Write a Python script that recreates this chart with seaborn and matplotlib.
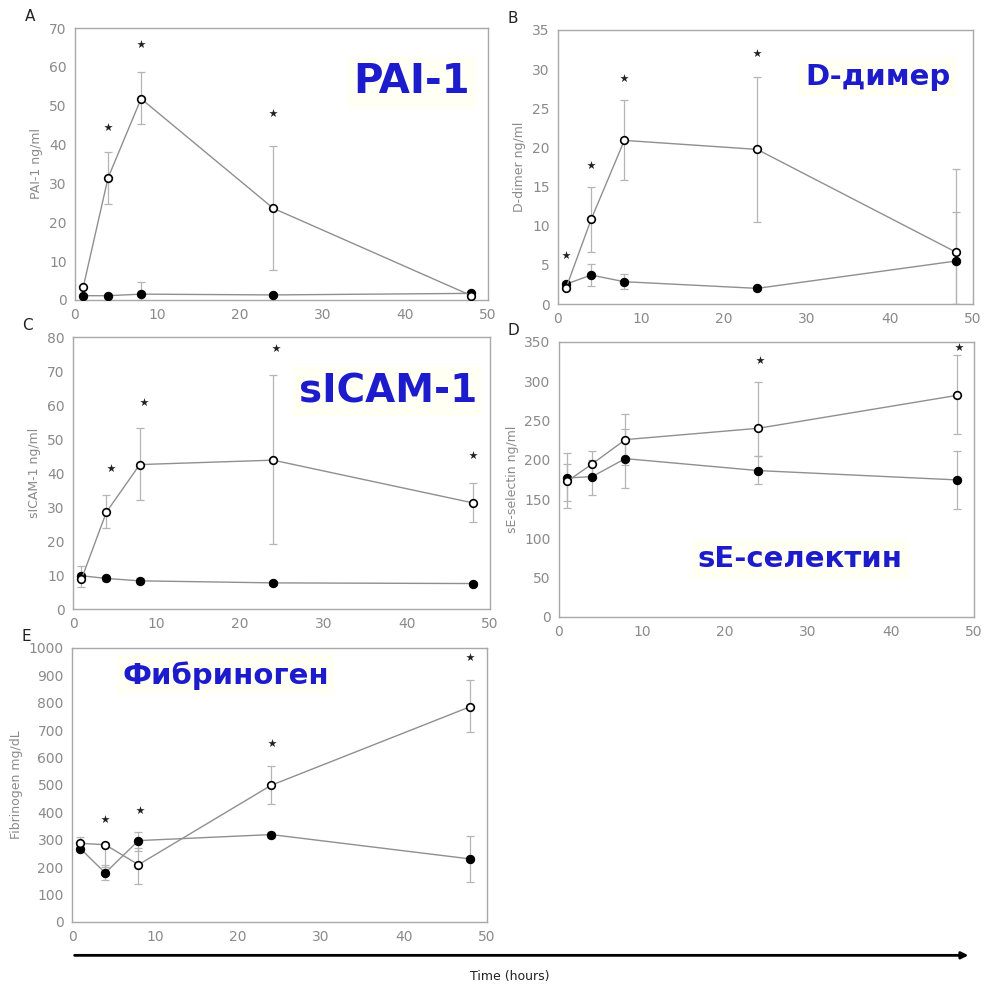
import numpy as np
import pandas as pd
import seaborn as sns
import matplotlib.pyplot as plt
from matplotlib.patches import FancyArrowPatch

# time points (hours)
hours = [1, 4, 8, 24, 48]

# A: PAI-1
pai_open = [3.3, 31.4, 51.8, 23.6, 1.1]
pai_open_hi = [3.3, 38.1, 58.7, 39.7, 1.6]
pai_open_lo = [3.3, 24.8, 45.2, 7.7, 0.8]
pai_fill = [1.1, 1.1, 1.5, 1.3, 1.7]
pai_fill_hi = [1.1, 1.1, 4.5, 1.3, 2.0]
pai_fill_lo = [1.1, 1.1, 0.0, 1.3, 1.4]
pai_star_x = [4, 8, 24]
pai_star_y = [44.6, 66.0, 48.2]

# B: D-dimer
dd_open = [2.1, 10.8, 20.9, 19.75, 6.6]
dd_open_hi = [2.4, 14.9, 26.05, 29.0, 17.2]
dd_open_lo = [1.8, 6.7, 15.8, 10.5, 0.0]
dd_fill = [2.55, 3.7, 2.85, 2.0, 5.5]
dd_fill_hi = [2.9, 5.07, 3.8, 2.2, 11.8]
dd_fill_lo = [2.2, 2.34, 1.9, 1.8, 0.0]
dd_star_x = [1, 4, 8, 24]
dd_star_y = [6.3, 17.8, 28.9, 32.1]

# C: sICAM-1
icam_open = [8.7, 28.5, 42.5, 43.8, 31.2]
icam_open_hi = [12.6, 33.5, 53.3, 68.8, 37.2]
icam_open_lo = [6.4, 23.7, 32.0, 19.0, 25.5]
icam_fill = [9.8, 9.0, 8.3, 7.7, 7.5]
icam_fill_hi = [10.5, 9.7, 9.0, 8.2, 8.0]
icam_fill_lo = [9.1, 8.3, 7.6, 7.2, 7.0]
icam_star_x = [4.5, 8.5, 24.3, 48]
icam_star_y = [41.5, 60.9, 76.9, 45.2]

# D: sE-selectin
sel_open = [172.7, 194.7, 225.7, 240.1, 282.1]
sel_open_hi = [195, 210.9, 258.4, 299, 333]
sel_open_lo = [147, 180, 194, 205, 233]
sel_fill = [176.9, 178.6, 201.5, 186.3, 174.4]
sel_fill_hi = [208.7, 200, 239, 205, 211.7]
sel_fill_lo = [138.7, 155, 164, 169, 137.9]
sel_star_x = [24.2, 48.2]
sel_star_y = [327.5, 343]

# E: Fibrinogen
fib_open = [287, 282, 209, 499, 786]
fib_open_hi = [310, 290, 270, 570.6, 882]
fib_open_lo = [265, 200, 140, 432, 692]
fib_fill = [268, 179, 297, 319, 230]
fib_fill_hi = [280, 209, 328, 330, 313]
fib_fill_lo = [255, 152, 260, 308, 146]
fib_star_x = [4, 8.2, 24.1, 48]
fib_star_y = [376, 410, 653, 966]

sns.set_style("white")
plt.rcParams['font.family'] = ['DejaVu Sans']

fig = plt.figure(figsize=(9.84, 9.90), dpi=100)

panels = [
    # letter, rect, ymax, ystep, ylabel, title, title pos (axes frac), title size, data...
    ('A', [0.0762, 0.697, 0.4197, 0.2747], 70, 10, 'PAI-1 ng/ml', 'PAI-1', (0.815, 0.80), 29,
     pai_open, pai_open_lo, pai_open_hi, pai_fill, pai_fill_lo, pai_fill_hi, pai_star_x, pai_star_y),
    ('B', [0.567, 0.6929, 0.4218, 0.2768], 35, 5, 'D-dimer ng/ml', 'D-димер', (0.77, 0.83), 21,
     dd_open, dd_open_lo, dd_open_hi, dd_fill, dd_fill_lo, dd_fill_hi, dd_star_x, dd_star_y),
    ('C', [0.0742, 0.3848, 0.4238, 0.2747], 80, 10, 'sICAM-1 ng/ml', 'sICAM-1', (0.755, 0.80), 28,
     icam_open, icam_open_lo, icam_open_hi, icam_fill, icam_fill_lo, icam_fill_hi, icam_star_x, icam_star_y),
    ('D', [0.568, 0.3768, 0.4218, 0.2778], 350, 50, 'sE-selectin ng/ml', 'sE-селектин', (0.58, 0.21), 21,
     sel_open, sel_open_lo, sel_open_hi, sel_fill, sel_fill_lo, sel_fill_hi, sel_star_x, sel_star_y),
    ('E', [0.0732, 0.0687, 0.4218, 0.2768], 1000, 100, 'Fibrinogen mg/dL', 'Фибриноген', (0.37, 0.90), 21,
     fib_open, fib_open_lo, fib_open_hi, fib_fill, fib_fill_lo, fib_fill_hi, fib_star_x, fib_star_y),
]

grey_line = '#8f8f8f'
grey_err = '#b5b5b5'
grey_txt = '#8a8a8a'

for (letter, rect, ymax, ystep, ylabel, title, tpos, tsize,
     op, op_lo, op_hi, fl, fl_lo, fl_hi, sx, sy) in panels:
    ax = fig.add_axes(rect)
    df = pd.DataFrame({'t': hours, 'open': op, 'fill': fl})

    # error bars
    op_a = np.array(op)
    fl_a = np.array(fl)
    ax.errorbar(hours, fl, yerr=[fl_a - np.array(fl_lo), np.array(fl_hi) - fl_a],
                fmt='none', ecolor=grey_err, elinewidth=0.9, capsize=3, capthick=0.9, zorder=1)
    ax.errorbar(hours, op, yerr=[op_a - np.array(op_lo), np.array(op_hi) - op_a],
                fmt='none', ecolor=grey_err, elinewidth=0.9, capsize=3, capthick=0.9, zorder=1)

    sns.lineplot(data=df, x='t', y='fill', ax=ax, color=grey_line, linewidth=1.0,
                 marker='o', markersize=6, markerfacecolor='black', markeredgecolor='black',
                 zorder=3)
    sns.lineplot(data=df, x='t', y='open', ax=ax, color=grey_line, linewidth=1.0,
                 marker='o', markersize=5.5, markerfacecolor='white', markeredgecolor='black',
                 markeredgewidth=1.2, zorder=4)

    # significance stars
    ax.scatter(sx, sy, marker='*', s=40, color='#222222', zorder=5, linewidths=0)

    ax.set_xlim(0, 50)
    ax.set_ylim(0, ymax)
    ax.set_xticks(range(0, 51, 10))
    ax.set_yticks(np.arange(0, ymax + 1, ystep))
    ax.set_xlabel('')
    ax.set_ylabel(ylabel, color=grey_txt, fontsize=9, labelpad=4)
    ax.tick_params(length=0, labelsize=10, labelcolor=grey_txt, pad=6)
    for sp in ax.spines.values():
        sp.set_color('#a8a8a8')
        sp.set_linewidth(1.0)

    ax.text(tpos[0], tpos[1], title, transform=ax.transAxes, ha='center', va='center',
            fontsize=tsize, fontweight='bold', color='#1c1ccc',
            bbox=dict(facecolor='#fffff4', edgecolor='none', pad=4))

    fig.text(rect[0] - 0.046, rect[1] + rect[3] + 0.012, letter, fontsize=11, color='#222222',
             ha='center', va='center')

# time arrow along the bottom
arrow = FancyArrowPatch((0.073, 0.035), (0.987, 0.035), transform=fig.transFigure,
                        arrowstyle='-|>', mutation_scale=10, linewidth=2.0, color='black')
fig.add_artist(arrow)
fig.text(0.518, 0.014, 'Time (hours)', fontsize=9, color='#222222', ha='center', va='center')

fig.savefig('out.png', dpi=100, facecolor='white')
